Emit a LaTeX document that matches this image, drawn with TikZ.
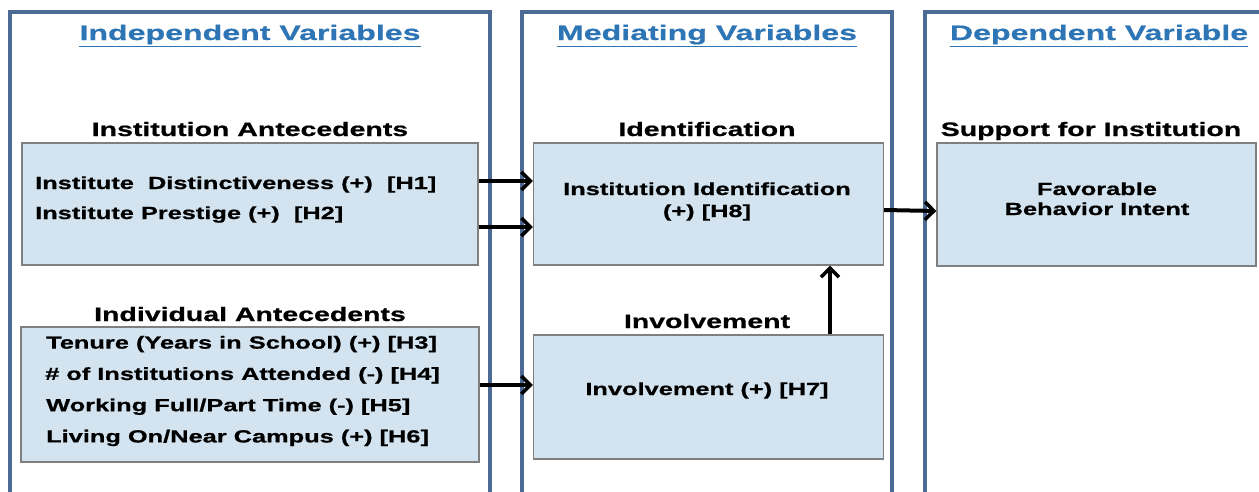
\documentclass[tikz,border=0pt]{standalone}
\usepackage{fontspec}
\usetikzlibrary{arrows.meta}
\newfontfamily\titlefont[FakeStretch=1.53,BoldFont={Liberation Sans Bold},BoldFeatures={FakeBold=0.6}]{Liberation Sans}
\newfontfamily\headfont[FakeStretch=1.46,BoldFont={Liberation Sans Bold},BoldFeatures={FakeBold=0.8}]{Liberation Sans}
\newfontfamily\boxfont[FakeStretch=1.45,BoldFont={Liberation Sans Bold},BoldFeatures={FakeBold=0.8}]{Liberation Sans}
\definecolor{panelblue}{HTML}{4C6A94}
\definecolor{titleblue}{HTML}{2E75B6}
\definecolor{boxfill}{HTML}{D3E4F0}
\definecolor{boxline}{HTML}{7F7F7F}
\tikzset{
  panel/.style={draw=panelblue, line width=3.2pt},
  vbox/.style={draw=boxline, fill=boxfill, line width=1.3pt, inner sep=0pt},
  ptitle/.style={font=\titlefont\bfseries\fontsize{21}{25}\selectfont, text=titleblue, anchor=base, inner sep=0pt},
  heading/.style={font=\headfont\bfseries\fontsize{19.5}{23}\selectfont, anchor=base, inner sep=0pt},
  btext/.style={font=\boxfont\bfseries\fontsize{17.5}{21}\selectfont, inner sep=0pt},
  arr/.style={draw=black, line width=4pt, -{Straight Barb[length=9pt,width=18pt,line width=3.5pt]}}
}
\begin{document}
\begin{tikzpicture}[x=1pt,y=-1pt]
\useasboundingbox (0,0) rectangle (1259,491);
% panels
\draw[panel] (10,493) -- (10,12) -- (490,12) -- (490,493);
\draw[panel] (522,493) -- (522,12) -- (892,12) -- (892,493);
\draw[panel] (925,493) -- (925,12) -- (1261,12);
% titles
\node[ptitle] (t1) at (250,40) {\underline{Independent Variables}};
\node[ptitle] (t2) at (707,40) {\underline{Mediating Variables}};
\node[ptitle] (t3) at (1099,40) {\underline{Dependent Variable}};
% headings
\node[heading] (h1) at (250,136) {Institution Antecedents};
\node[heading] (h2) at (707,136) {Identification};
\node[heading] (h3) at (1091,136) {Support for Institution};
\node[heading] (h4) at (250,321) {Individual Antecedents};
\node[heading] (h5) at (707,328) {Involvement};
% boxes
\node[vbox, minimum width=456pt, minimum height=122pt] (A) at (250,204) {};
\node[vbox, minimum width=350pt, minimum height=122pt] (B) at (708.5,204) {};
\node[vbox, minimum width=319pt, minimum height=123pt] (C) at (1096.5,204.5) {};
\node[vbox, minimum width=458pt, minimum height=135pt] (D) at (250,394.5) {};
\node[vbox, minimum width=350pt, minimum height=124pt] (E) at (708.5,397) {};
% box A text
\node[btext, anchor=base west] (a1) at (35,189) {Institute\ \ Distinctiveness (+)\ \ [H1]};
\node[btext, anchor=base west] (a2) at (35,219) {Institute Prestige (+)\ \ [H2]};
% box B text
\node[btext, anchor=base] (b1) at (707,195) {Institution Identification};
\node[btext, anchor=base] (b2) at (707,217) {(+) [H8]};
% box C text
\node[btext, anchor=base] (c1) at (1097,195) {Favorable};
\node[btext, anchor=base] (c2) at (1097,215) {Behavior Intent};
% box D text
\node[btext, anchor=base west] (d1) at (46,348.6) {Tenure (Years in School) (+) [H3]};
\node[btext, anchor=base west] (d2) at (45,379.9) {\# of Institutions Attended (-) [H4]};
\node[btext, anchor=base west] (d3) at (46,411.2) {Working Full/Part Time (-) [H5]};
\node[btext, anchor=base west] (d4) at (46,442.4) {Living On/Near Campus (+) [H6]};
% box E text
\node[btext, anchor=base] (e1) at (707,395) {Involvement (+) [H7]};
% arrows
\draw[arr] ([yshift=23pt]A.east) -- ([yshift=23pt]B.west);
\draw[arr] ([yshift=-23pt]A.east) -- ([yshift=-23pt]B.west);
\draw[arr] ([yshift=-6pt]B.east) -- ([yshift=-6.5pt]C.west);
\draw[arr] ([yshift=9.5pt]D.east) -- ([yshift=12pt]E.west);
\draw[arr] ([xshift=121.5pt]E.north) -- ([xshift=121.5pt]B.south);
\end{tikzpicture}
\end{document}
